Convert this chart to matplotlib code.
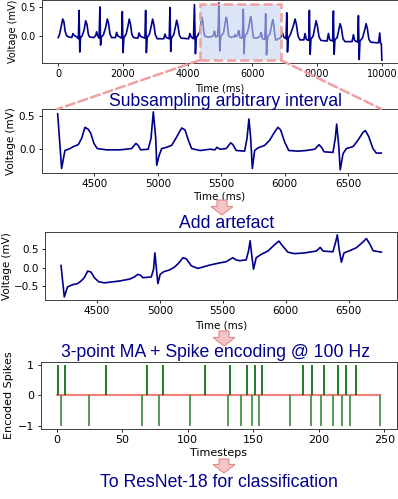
### Start initialization
import numpy as np
import matplotlib.pyplot as plt
from matplotlib.patches import Rectangle, FancyArrow, ConnectionPatch
### End initialization

### Data
# full 10 s recording, part before the selected window
t_pre = [0, 40, 100, 140, 175, 215, 260, 330, 420, 455, 490, 600, 625, 645, 668, 690,
         740, 800, 850, 890, 930, 970, 1100, 1160, 1190, 1220, 1265, 1289, 1310, 1335,
         1400, 1470, 1516, 1555, 1600, 1650, 1770, 1805, 1840, 1960, 1982, 2005, 2030,
         2100, 2160, 2196, 2235, 2280, 2330, 2460, 2500, 2540, 2680, 2702, 2725, 2750,
         2820, 2880, 2918, 2955, 3000, 3060, 3260, 3300, 3340, 3430, 3454, 3478, 3500,
         3570, 3625, 3661, 3700, 3745, 3800, 4030, 4070, 4110, 4180]
v_pre = [-0.03, 0.02, 0.18, 0.29, 0.25, 0.08, 0.0, -0.02, -0.03, 0.04, 0.01, -0.03, -0.05, 0.44, -0.28, -0.03,
         0.0, 0.10, 0.26, 0.20, 0.03, -0.02, -0.03, 0.01, 0.07, 0.0, -0.04, 0.50, -0.16, -0.02,
         0.02, 0.15, 0.29, 0.22, 0.03, -0.03, -0.03, 0.06, 0.0, -0.04, 0.42, -0.29, -0.03,
         0.03, 0.18, 0.29, 0.20, 0.02, -0.03, -0.04, 0.05, -0.01, -0.04, 0.44, -0.29, -0.03,
         0.03, 0.18, 0.29, 0.20, 0.02, -0.05, -0.05, 0.03, -0.03, -0.05, 0.49, -0.27, -0.04,
         0.02, 0.16, 0.27, 0.18, 0.01, -0.04, -0.05, 0.04, -0.02, -0.05]

# the subsampled window
t_win = [4210, 4241, 4267, 4307, 4333, 4372, 4399, 4425, 4451, 4470, 4496, 4522, 4596, 4701,
         4793, 4810, 4827, 4845, 4864, 4924, 4946, 4964, 4983, 4991, 5009, 5030, 5069, 5109,
         5148, 5188, 5214, 5240, 5266, 5332, 5411, 5450, 5466, 5490, 5539, 5574, 5592, 5618,
         5684, 5703, 5718, 5732, 5745, 5763, 5789, 5842, 5882, 5921, 5947, 5968, 6000, 6032,
         6105, 6170, 6237, 6271, 6294, 6310, 6381, 6399, 6410, 6426, 6438, 6460, 6486, 6539,
         6578, 6617, 6636, 6662, 6696, 6722, 6762]
v_win = [0.54, -0.31, -0.03, 0.0, 0.03, 0.06, 0.16, 0.33, 0.30, 0.24, 0.08, 0.0, -0.02, -0.02,
         0.0, 0.04, 0.08, 0.05, -0.02, -0.01, 0.16, 0.57, 0.16, -0.26, -0.11, 0.0, 0.02, 0.05,
         0.18, 0.32, 0.29, 0.13, 0.0, -0.03, -0.01, -0.02, 0.02, -0.01, 0.0, 0.09, 0.06, -0.03,
         -0.04, 0.16, 0.46, 0.16, -0.31, -0.03, 0.01, 0.05, 0.13, 0.26, 0.33, 0.29, 0.10, -0.03,
         -0.04, -0.03, -0.01, 0.06, 0.01, -0.05, -0.06, 0.16, 0.38, 0.05, -0.33, -0.08, 0.0, 0.03,
         0.13, 0.25, 0.28, 0.19, 0.0, -0.07, -0.07]

# full recording, part after the window
t_post = [6800, 6860, 6930, 6970, 7040, 7062, 7085, 7110, 7180, 7270, 7319, 7360, 7410, 7470,
          7590, 7628, 7665, 7740, 7762, 7786, 7810, 7880, 7930, 7968, 8010, 8060, 8120, 8310,
          8349, 8390, 8480, 8504, 8528, 8550, 8620, 8670, 8711, 8750, 8800, 8860, 9080, 9122,
          9160, 9255, 9277, 9302, 9325, 9400, 9470, 9514, 9555, 9600, 9660, 9850, 9900, 9935,
          9960, 9985, 10000]
v_post = [-0.05, -0.04, 0.05, -0.02, -0.05, 0.40, -0.28, -0.04, 0.03, 0.18, 0.29, 0.20, 0.0, -0.07,
          -0.07, 0.04, -0.06, -0.08, 0.44, -0.32, -0.06, 0.0, 0.15, 0.26, 0.17, -0.02, -0.08, -0.09,
          0.04, -0.07, -0.09, 0.43, -0.32, -0.07, -0.03, 0.10, 0.21, 0.14, -0.05, -0.10, -0.10, 0.02,
          -0.08, -0.11, 0.35, -0.41, -0.09, -0.04, 0.10, 0.21, 0.12, -0.06, -0.11, -0.12, -0.12, 0.05,
          -0.12, -0.14, -0.42]

# window with the added artefact (baseline drift)
t_art = [4215, 4241, 4267, 4307, 4347, 4374, 4400, 4427, 4454, 4480, 4514, 4560, 4679, 4759,
         4799, 4825, 4845, 4865, 4932, 4950, 4961, 4975, 4985, 5003, 5030, 5078, 5118, 5152,
         5184, 5211, 5251, 5303, 5396, 5476, 5526, 5580, 5606, 5633, 5686, 5705, 5718, 5732,
         5745, 5766, 5805, 5859, 5912, 5946, 5978, 6018, 6071, 6151, 6243, 6275, 6297, 6376,
         6398, 6411, 6425, 6443, 6464, 6509, 6562, 6616, 6642, 6669, 6695, 6761]
v_art = [0.06, -0.79, -0.52, -0.46, -0.43, -0.36, -0.27, -0.09, -0.12, -0.27, -0.38, -0.41, -0.36, -0.31,
         -0.25, -0.18, -0.20, -0.27, -0.25, -0.05, 0.40, -0.10, -0.43, -0.18, -0.11, -0.06, 0.02, 0.13,
         0.27, 0.24, 0.05, -0.02, 0.07, 0.13, 0.16, 0.27, 0.21, 0.19, 0.21, 0.45, 0.73, 0.30,
         -0.04, 0.27, 0.36, 0.45, 0.62, 0.72, 0.58, 0.42, 0.38, 0.40, 0.45, 0.55, 0.45, 0.43,
         0.70, 0.89, 0.50, 0.15, 0.40, 0.46, 0.54, 0.70, 0.79, 0.64, 0.46, 0.42]

# spike encoding
n_steps = 248
pos_spikes = [1, 6, 38, 69, 81, 113, 132, 145, 151, 157, 188, 195, 204, 215, 221, 228]
neg_spikes = [3, 25, 65, 78, 102, 131, 141, 149, 154, 178, 194, 202, 211, 218, 224, 247]

# highlighted window in the top panel
win_t = (4380, 6886)
win_v = (-0.42, 0.545)

### Style
plt.rcParams['xtick.major.size'] = 2.5
plt.rcParams['ytick.major.size'] = 2.5
plt.rcParams['xtick.major.width'] = 0.6
plt.rcParams['ytick.major.width'] = 0.6
plt.rcParams['axes.linewidth'] = 0.7
plt.rcParams['axes.edgecolor'] = '#404040'

ecg = 'darkblue'
pink = '#f0a0a0'
title_kw = dict(ha='center', va='baseline', color='darkblue', fontsize=12.7,
                family=['Liberation Sans', 'DejaVu Sans'])

W, H = 398, 499
fig = plt.figure(figsize=(W/100, H/100), dpi=100)

def px_axes(left, top, right, bottom, fs):
    ax = fig.add_axes([left/W, 1 - bottom/H, (right - left)/W, (bottom - top)/H])
    ax.tick_params(labelsize=fs, pad=2)
    return ax

def px_text(x, y, s):
    fig.text(x/W, 1 - y/H, s, **title_kw)

def px_arrow(x, y0, y1):
    arr = FancyArrow(x/100, (H - y0)/100, 0, -(y1 - y0)/100, width=0.10,
                     head_width=0.22, head_length=0.085, length_includes_head=True,
                     fc='#f7c4c4', ec='#e08a8a', lw=0.8, transform=fig.dpi_scale_trans)
    fig.add_artist(arr)

### Panel 1: full recording
fs1 = 7
ax1 = px_axes(42, 0, 398, 63, fs1)
t_full = np.concatenate([t_pre, t_win, t_post])
v_full = np.concatenate([v_pre, v_win, v_post])
ax1.plot(t_full, v_full, color=ecg, lw=1.2)
ax1.add_patch(Rectangle((win_t[0], win_v[0]), win_t[1] - win_t[0], win_v[1] - win_v[0],
                        fc='#c6d5f0', alpha=0.6, ec='none', zorder=3))
ax1.add_patch(Rectangle((win_t[0], win_v[0]), win_t[1] - win_t[0], win_v[1] - win_v[0],
                        fc='none', ec=pink, ls='--', lw=1.8, zorder=4))
ax1.set_xticks(np.arange(0, 10001, 2000))
ax1.set_yticks([0.0, 0.5])
ax1.set_xlabel('Time (ms)', fontsize=fs1, labelpad=3)
ax1.set_ylabel('Voltage (mV)', fontsize=fs1, labelpad=2)

### Panel 2: subsampled window
fs2 = 7.5
ax2 = px_axes(41.5, 109, 397.5, 172.7, fs2)
ax2.plot(t_win, v_win, color=ecg, lw=1.2)
ax2.set_xticks(np.arange(4500, 6501, 500))
ax2.set_yticks([0.0, 0.5])
ax2.set_xlabel('Time (ms)', fontsize=fs2, labelpad=2)
ax2.set_ylabel('Voltage (mV)', fontsize=fs2, labelpad=2)

for xa, ya, xb in [(win_t[0], win_v[0], t_win[0]), (win_t[1], win_v[0], t_win[-1])]:
    con = ConnectionPatch(xyA=(xa, ya), coordsA=ax1.transData,
                          xyB=(xb, 1), coordsB=ax2.get_xaxis_transform(),
                          color=pink, ls='--', lw=1.8)
    fig.add_artist(con)

### Panel 3: artefact added
fs3 = 7.5
ax3 = px_axes(45, 231.7, 397.4, 300, fs3)
ax3.plot(t_art, v_art, color=ecg, lw=1.2)
ax3.set_xticks(np.arange(4500, 6501, 500))
ax3.set_yticks([-0.5, 0.0, 0.5])
ax3.set_xlabel('Time (ms)', fontsize=fs3, labelpad=3)
ax3.set_ylabel('Voltage (mV)', fontsize=fs3, labelpad=1)

### Panel 4: spike encoding
fs4 = 8
ax4 = px_axes(40.5, 361.7, 396.6, 429, fs4)
steps = np.arange(n_steps)
ax4.plot(steps, np.zeros(n_steps), color='lightcoral', lw=1.6, zorder=1)
ax4.vlines(pos_spikes, 0, 1, color='darkgreen', lw=1.2, zorder=2)
ax4.vlines(neg_spikes, -1, 0, color='#3a8a3a', lw=1.2, zorder=2)
ax4.set_xticks(np.arange(0, 251, 50))
ax4.set_yticks([-1, 0, 1])
ax4.set_xlabel('Timesteps', fontsize=fs4, labelpad=2)
ax4.set_ylabel('Encoded Spikes', fontsize=fs4, labelpad=3)

### Captions and arrows
px_text(225, 106.5, 'Subsampling arbitrary interval')
px_text(227, 228.3, 'Add artefact')
px_text(216, 357.3, '3-point MA + Spike encoding @ 100 Hz')
px_text(219, 486.7, 'To ResNet-18 for classification')

px_arrow(222, 200, 215)
px_arrow(224, 331, 346)
px_arrow(224, 459, 473)

plt.savefig('out.png', dpi=100)
